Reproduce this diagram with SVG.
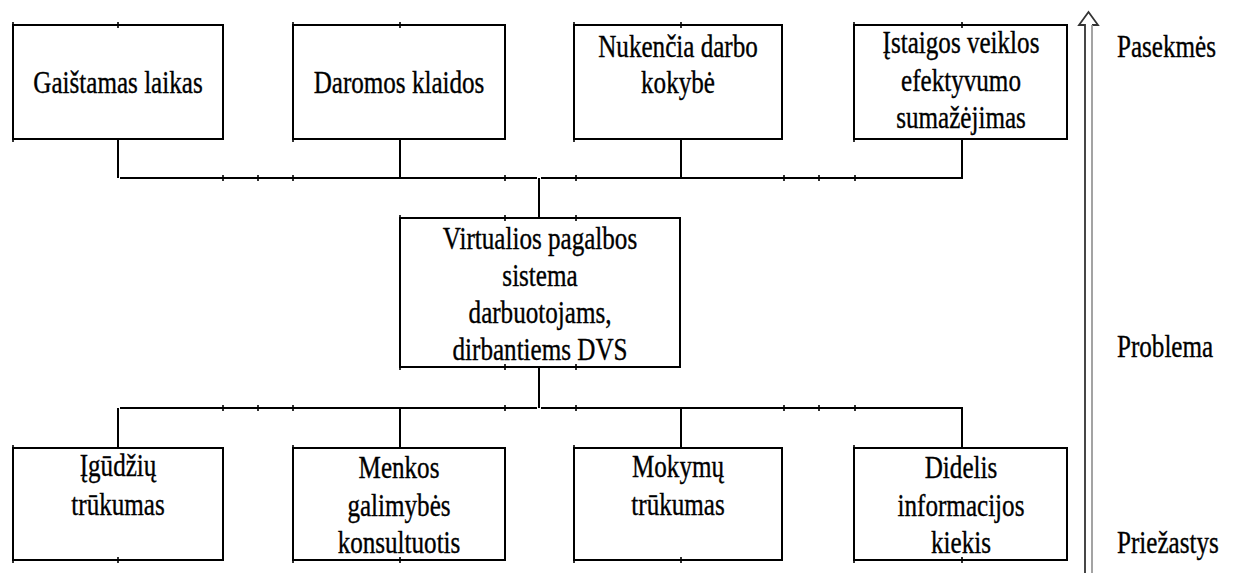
<svg xmlns="http://www.w3.org/2000/svg" width="1234" height="573" viewBox="0 0 1234 573">
  <style>
    .box { fill: #fff; stroke: #000; stroke-width: 2; }
    .ln { fill: none; stroke: #000; stroke-width: 2; }
    .tick { stroke: #000; stroke-width: 1.6; }
    text { font-family: "Liberation Serif", "Times New Roman", serif; font-size: 31px; fill: #000; stroke: #000; stroke-width: 0.35; }
    .t { text-anchor: middle; }
  </style>

  <!-- connectors -->
  <g id="connectors">
    <!-- upper bus -->
    <path class="ln" d="M118,139 V178 M120,178 H537 M541,178 H962 V139 M400,139 V178 M681,139 V178 M539,178 V218"/>
    <!-- lower bus -->
    <path class="ln" d="M539,367 V408 M120,408 H537 M541,408 H962 V448 M118,408 V448 M400,408 V448 M681,408 V448"/>
    <g class="tick">
      <path d="M223,175 V181 M258,175 V181 M293,175 V181 M505,175 V181 M576,175 V181 M784,175 V181 M819,175 V181 M855,175 V181"/>
      <path d="M223,405 V411 M258,405 V411 M293,405 V411 M505,405 V411 M576,405 V411 M784,405 V411 M819,405 V411 M855,405 V411"/>
    </g>
  </g>

  <!-- effects (top row) -->
  <g id="n-gaistamas">
    <rect class="box" x="13" y="25" width="210" height="114"/>
    <path class="tick" d="M118,22 V28 M13,22 V28 M13,136 V142"/>
    <text class="t" transform="translate(118 0) scale(0.81 1)" y="93">Gaištamas laikas</text>
  </g>
  <g id="n-klaidos">
    <rect class="box" x="293" y="25" width="212" height="114"/>
    <path class="tick" d="M400,22 V28 M293,22 V142"/>
    <text class="t" transform="translate(399 0) scale(0.81 1)" y="93">Daromos klaidos</text>
  </g>
  <g id="n-kokybe">
    <rect class="box" x="574" y="25" width="208" height="114"/>
    <path class="tick" d="M681,22 V28 M574,22 V142"/>
    <g transform="translate(678 0) scale(0.81 1)">
      <text class="t" y="57">Nukenčia darbo</text>
      <text class="t" y="93">kokybė</text>
    </g>
  </g>
  <g id="n-efektyvumas">
    <rect class="box" x="854" y="25" width="213" height="114"/>
    <path class="tick" d="M962,22 V28 M854,22 V142"/>
    <g transform="translate(961 0) scale(0.81 1)">
      <text class="t" y="53">Įstaigos veiklos</text>
      <text class="t" y="91">efektyvumo</text>
      <text class="t" y="128">sumažėjimas</text>
    </g>
  </g>

  <!-- problem -->
  <g id="n-problema">
    <rect class="box" x="400" y="218" width="280" height="149"/>
    <path class="tick" d="M505,215 V221 M576,215 V221 M505,364 V370 M576,364 V370 M400,215 V221 M400,364 V370"/>
    <g transform="translate(540 0) scale(0.81 1)">
      <text class="t" y="249">Virtualios pagalbos</text>
      <text class="t" y="286">sistema</text>
      <text class="t" y="323">darbuotojams,</text>
      <text class="t" y="360">dirbantiems DVS</text>
    </g>
  </g>

  <!-- causes (bottom row) -->
  <g id="n-igudziai">
    <rect class="box" x="13" y="448" width="210" height="112"/>
    <path class="tick" d="M118,557 V563 M13,445 V451 M13,557 V563"/>
    <g transform="translate(118 0) scale(0.81 1)">
      <text class="t" y="476">Įgūdžių</text>
      <text class="t" y="515">trūkumas</text>
    </g>
  </g>
  <g id="n-konsultuotis">
    <rect class="box" x="293" y="448" width="212" height="112"/>
    <path class="tick" d="M400,557 V563 M293,445 V563"/>
    <g transform="translate(399 0) scale(0.81 1)">
      <text class="t" y="478">Menkos</text>
      <text class="t" y="516">galimybės</text>
      <text class="t" y="553">konsultuotis</text>
    </g>
  </g>
  <g id="n-mokymai">
    <rect class="box" x="574" y="448" width="208" height="112"/>
    <path class="tick" d="M681,557 V563 M574,445 V563"/>
    <g transform="translate(678 0) scale(0.81 1)">
      <text class="t" y="477">Mokymų</text>
      <text class="t" y="515">trūkumas</text>
    </g>
  </g>
  <g id="n-informacija">
    <rect class="box" x="854" y="448" width="213" height="112"/>
    <path class="tick" d="M962,557 V563 M854,445 V563"/>
    <g transform="translate(961 0) scale(0.81 1)">
      <text class="t" y="478">Didelis</text>
      <text class="t" y="516">informacijos</text>
      <text class="t" y="553">kiekis</text>
    </g>
  </g>

  <!-- hollow upward arrow (causes to effects) -->
  <g id="axis">
    <path d="M1085,573 V25 H1079 L1088.5,12 L1098,25 H1092 V573" fill="#fff" stroke="none"/>
    <path d="M1085,573 V25 H1079 L1088.5,12 L1098,25 H1092" fill="none" stroke="#333" stroke-width="1.8"/>
    <path d="M1092,25 V573" fill="none" stroke="#999" stroke-width="1.8"/>
  </g>

  <!-- level labels -->
  <g id="labels" transform="translate(1117 0) scale(0.81 1)">
    <text y="57">Pasekmės</text>
    <text y="357">Problema</text>
    <text y="553">Priežastys</text>
  </g>
</svg>
